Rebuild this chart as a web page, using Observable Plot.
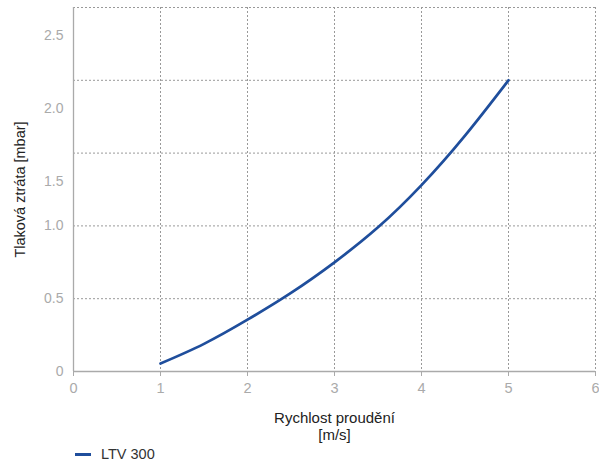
<!DOCTYPE html>
<html>
<head>
<meta charset="utf-8">
<script src="https://cdn.jsdelivr.net/npm/d3@7"></script>
<script src="https://cdn.jsdelivr.net/npm/@observablehq/plot@0.6"></script>
<style>
  html, body { margin: 0; padding: 0; background: #fff; overflow: hidden; }
  body { width: 599px; height: 462px; position: relative; font-family: "Liberation Sans", Arial, sans-serif; }
  #title { position: absolute; left: 9px; top: -13px; font-size: 17px; font-weight: bold; color: #1f4e9c; }
  #chart { position: absolute; left: 0; top: 0; }
  #legend { position: absolute; left: 75px; top: 446px; display: flex; align-items: center; font-size: 14.5px; color: #333; }
  #legend .sw { width: 16px; height: 3px; background: #1f4e9c; margin-right: 10px; }
</style>
</head>
<body>
<div id="title">300</div>
<div id="chart"></div>
<div id="legend"><span class="sw"></span><span>LTV 300</span></div>
<script>
const seriesName = "LTV 300";
const velocity = [1, 1.5, 2, 2.5, 3, 3.5, 4, 4.5, 5];
const pressureLoss = [0.055, 0.19, 0.356, 0.54, 0.75, 0.99, 1.28, 1.62, 2.0];
const xTicks = [0, 1, 2, 3, 4, 5, 6];
const yTicksLow = [0, 0.5, 1.0];
const yTicksHigh = [1.5, 2.0, 2.5];
const xLabel = "Rychlost proudění\n[m/s]";
const yLabel = "Tlaková ztráta [mbar]";

const data = velocity.map((v, i) => ({v, p: pressureLoss[i]}));
const fmt = d => d === 0 ? "0" : d.toFixed(1);

const chart = Plot.plot({
  width: 599,
  height: 444,
  marginLeft: 73,
  marginRight: 4,
  marginTop: 7,
  marginBottom: 73,
  style: {fontFamily: "Liberation Sans, Arial, sans-serif", fontSize: "14px", background: "#fff"},
  x: {domain: [0, 6]},
  y: {domain: [0, 2.5]},
  marks: [
    Plot.ruleX(xTicks.filter(d => d > 0), {stroke: "#999", strokeDasharray: "2,2", strokeWidth: 1}),
    Plot.ruleY([...yTicksLow, ...yTicksHigh].filter(d => d > 0), {stroke: "#999", strokeDasharray: "2,2", strokeWidth: 1}),
    Plot.ruleX([0], {stroke: "#aaa", strokeWidth: 1.3}),
    Plot.ruleY([0], {stroke: "#aaa", strokeWidth: 1.3}),
    Plot.axisX({ticks: xTicks, tickFormat: d => String(d), tickSize: 5, tickPadding: 6, stroke: "#aaa", color: "#aaa", fontSize: 14.5,
      label: null}),
    Plot.text([xLabel], {frameAnchor: "bottom", dy: 40, fill: "#222", fontSize: 15, lineHeight: 1.1, textAnchor: "middle", lineAnchor: "top"}),
    Plot.axisY({ticks: yTicksLow, tickFormat: fmt, tickSize: 0, tickPadding: 10, color: "#aaa", fontSize: 14, label: null}),
    Plot.axisY({ticks: yTicksHigh, tickFormat: fmt, tickSize: 0, tickPadding: 10, color: "#aaa", fontSize: 14, label: null, dy: 28}),
    Plot.text([yLabel], {frameAnchor: "left", dx: -53, rotate: -90, fill: "#222", fontSize: 14.5, textAnchor: "middle"}),
    Plot.line(data, {x: "v", y: "p", stroke: "#1f4e9c", strokeWidth: 2.7, curve: "natural"})
  ]
});
document.getElementById("chart").appendChild(chart);
</script>
</body>
</html>
